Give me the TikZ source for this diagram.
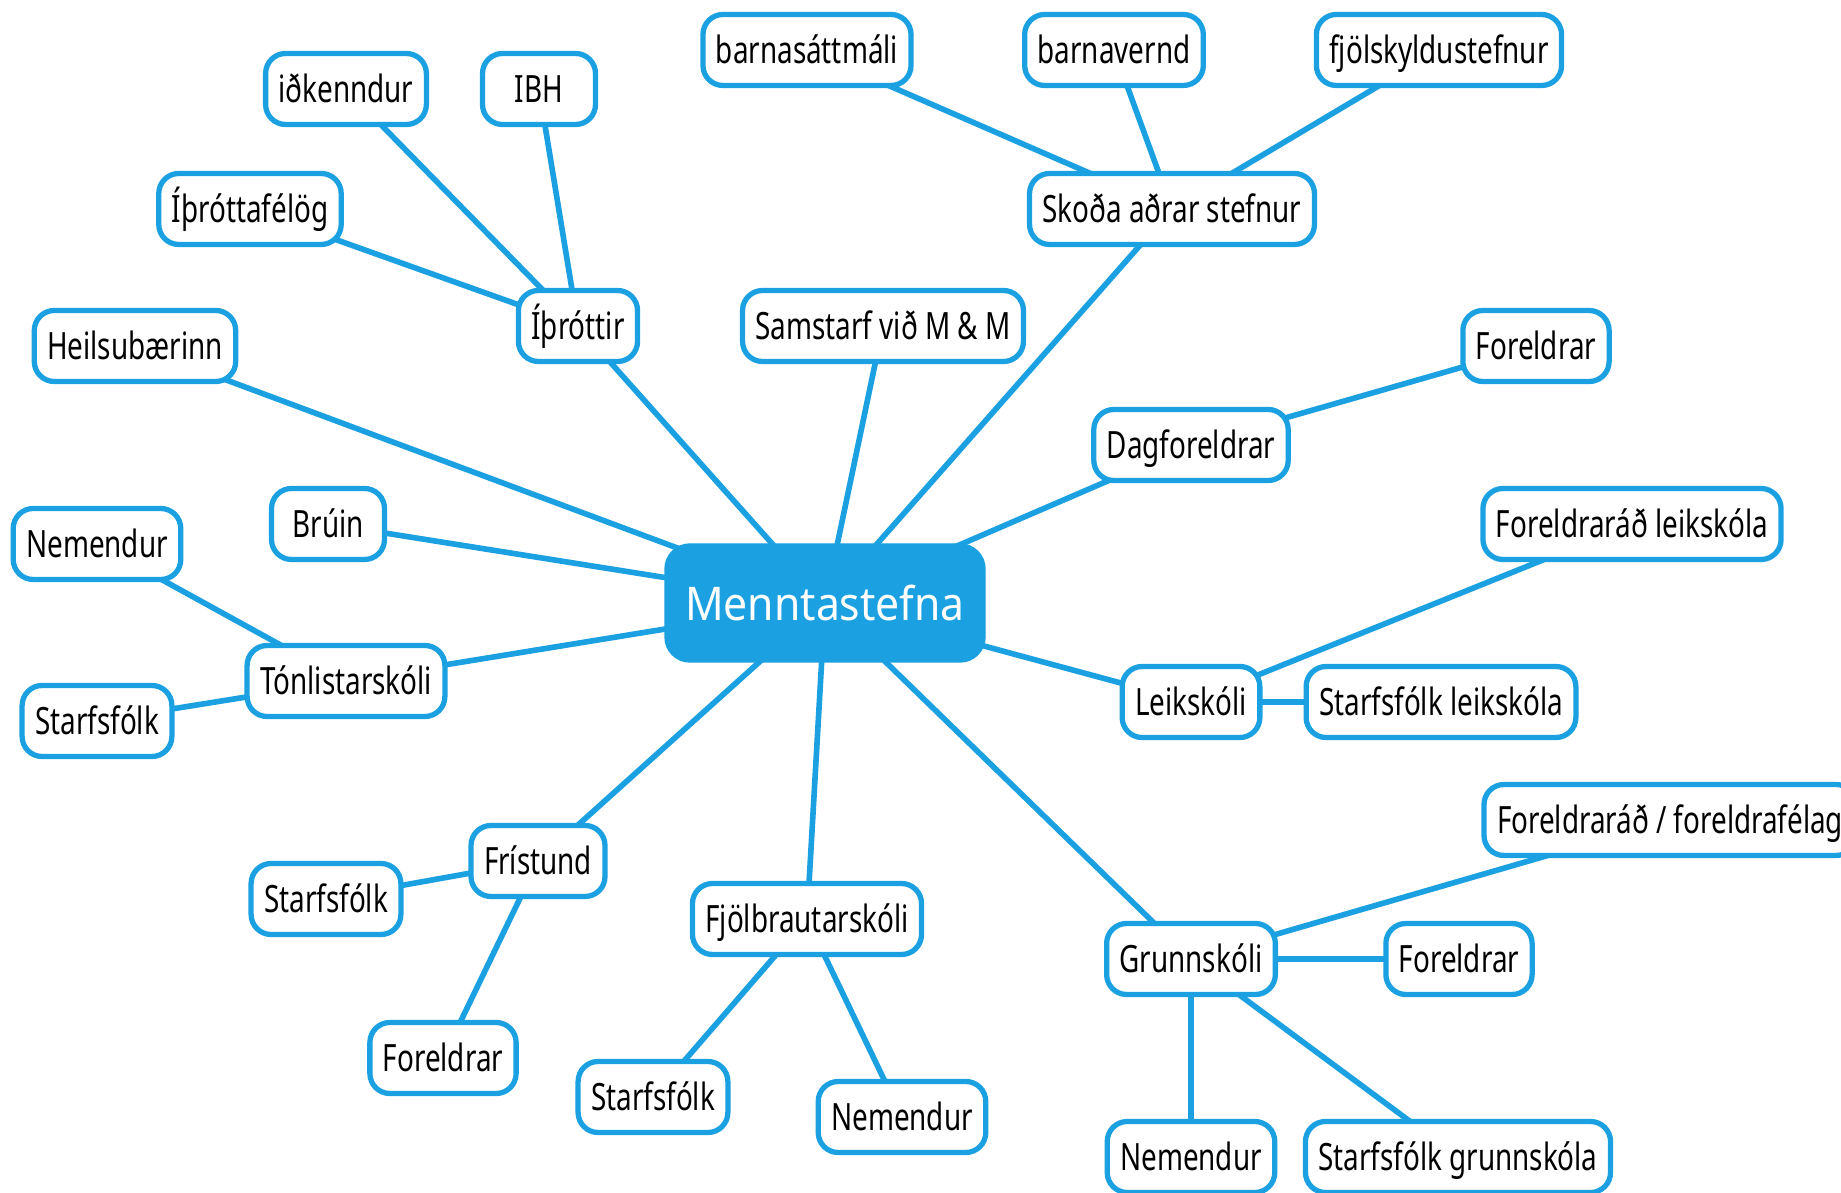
\documentclass[tikz,border=0pt]{standalone}
\usepackage{fontspec}
\setmainfont{Noto Sans}[FakeStretch=0.74]
\newfontfamily\hubfont{Noto Sans}[FakeStretch=0.92]
\usetikzlibrary{backgrounds}
\definecolor{mmblue}{RGB}{27,160,225}
\tikzset{
  topic/.style={draw=mmblue, line width=1.5pt, rounded corners=0.2cm, fill=white,
    minimum height=0.71cm, minimum width=1.13cm, inner xsep=0.13cm,
    text height=9pt, text depth=1.5pt, font=\fontsize{10.7}{12}\selectfont},
  hub/.style={draw=mmblue, fill=mmblue, rounded corners=0.25cm, text=white,
    minimum width=3.2cm, minimum height=1.18cm, font=\hubfont\fontsize{13.2}{15}\selectfont},
  link/.style={mmblue, line width=1.6pt}
}
\begin{document}
\begin{tikzpicture}
\useasboundingbox (0,0) rectangle (18.41,-11.93);
% centre
\node[hub] (menn) at (8.25,-6.03) {Menntastefna};

% upper left
\node[topic] (ithrottir) at (5.78,-3.26) {Íþróttir};
\node[topic] (idk) at (3.46,-0.89) {iðkenndur};
\node[topic] (ibh) at (5.39,-0.89) {IBH};
\node[topic] (felog) at (2.50,-2.09) {Íþróttafélög};
\node[topic] (heilsu) at (1.35,-3.46) {Heilsubærinn};
\node[topic] (bruin) at (3.28,-5.24) {Brúin};

% upper right
\node[topic] (skoda) at (11.72,-2.09) {Skoða aðrar stefnur};
\node[topic] (barnas) at (8.07,-0.50) {barnasáttmáli};
\node[topic] (barnav) at (11.14,-0.50) {barnavernd};
\node[topic] (fjolsk) at (14.39,-0.50) {fjölskyldustefnur};
\node[topic] (samst) at (8.83,-3.26) {Samstarf við M \& M};
\node[topic] (dagf) at (11.91,-4.45) {Dagforeldrar};
\node[topic] (dagfor) at (15.36,-3.46) {Foreldrar};

% left
\node[topic] (tonl) at (3.46,-6.81) {Tónlistarskóli};
\node[topic] (tonlnem) at (0.97,-5.44) {Nemendur};
\node[topic] (tonlst) at (0.97,-7.21) {Starfsfólk};

% right
\node[topic] (leik) at (11.91,-7.02) {Leikskóli};
\node[topic] (leikst) at (14.41,-7.02) {Starfsfólk leikskóla};
\node[topic] (leikfr) at (16.32,-5.24) {Foreldraráð leikskóla};

% lower left
\node[topic] (frist) at (5.38,-8.61) {Frístund};
\node[topic] (fristst) at (3.26,-8.99) {Starfsfólk};
\node[topic] (fristfor) at (4.43,-10.58) {Foreldrar};

% lower middle
\node[topic] (fjol) at (8.07,-9.19) {Fjölbrautarskóli};
\node[topic] (fjolst) at (6.53,-10.97) {Starfsfólk};
\node[topic] (fjolnem) at (9.02,-11.17) {Nemendur};

% lower right
\node[topic] (grunn) at (11.91,-9.59) {Grunnskóli};
\node[topic] (grunnfor) at (14.59,-9.59) {Foreldrar};
\node[topic] (grunnfr) at (16.70,-8.20) {Foreldraráð / foreldrafélag};
\node[topic] (grunnnem) at (11.91,-11.57) {Nemendur};
\node[topic] (grunnst) at (14.58,-11.57) {Starfsfólk grunnskóla};

\begin{scope}[on background layer]
\foreach \c in {heilsu,ithrottir,samst,skoda,dagf,bruin,tonl,leik,frist,fjol,grunn}
  \draw[link] (menn.center) -- (\c.center);
\foreach \c in {idk,ibh,felog}
  \draw[link] (ithrottir.center) -- (\c.center);
\foreach \c in {barnas,barnav,fjolsk}
  \draw[link] (skoda.center) -- (\c.center);
\draw[link] (dagf.center) -- (dagfor.center);
\draw[link] (tonl.center) -- (tonlnem.center);
\draw[link] (tonl.center) -- (tonlst.center);
\draw[link] (leik.center) -- (leikst.center);
\draw[link] (leik.center) -- (leikfr.center);
\draw[link] (frist.center) -- (fristst.center);
\draw[link] (frist.center) -- (fristfor.center);
\draw[link] (fjol.center) -- (fjolst.center);
\draw[link] (fjol.center) -- (fjolnem.center);
\foreach \c in {grunnfor,grunnfr,grunnnem,grunnst}
  \draw[link] (grunn.center) -- (\c.center);
\end{scope}
\end{tikzpicture}
\end{document}
